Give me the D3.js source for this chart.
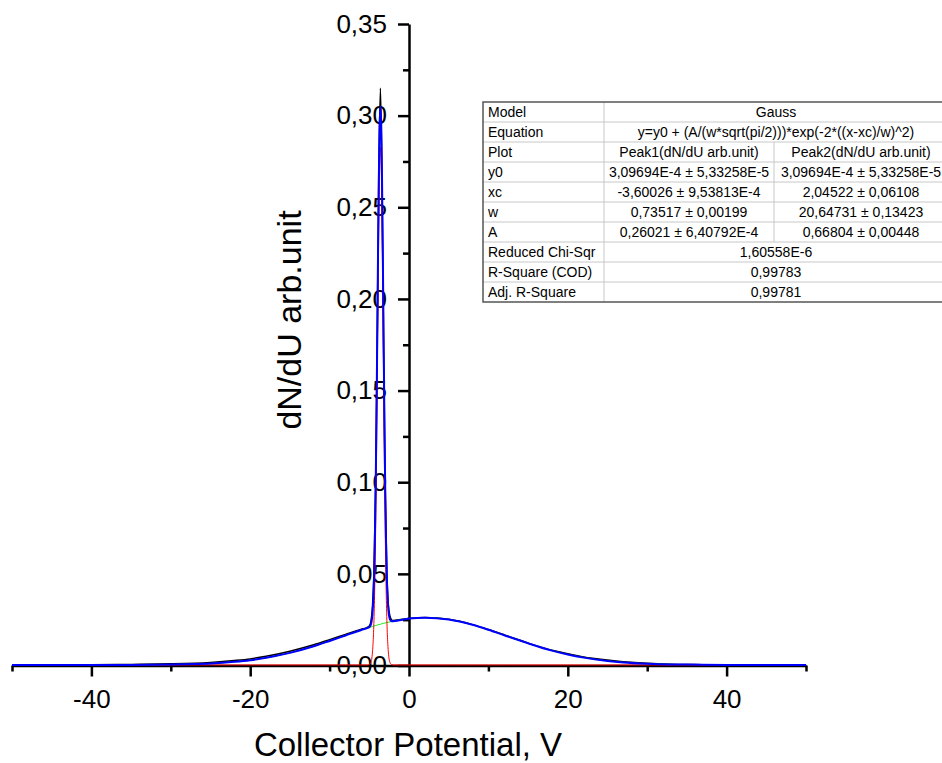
<!DOCTYPE html>
<html>
<head>
    <meta charset="utf-8">
    <title>Gauss fit</title>
    <script src="https://d3js.org/d3.v7.min.js"></script>
    <style>
        body { margin: 0; background: #fff; }
        text { font-family: Arial, "Liberation Sans", sans-serif; }
    </style>
</head>
<body>
<div id="chart"></div>
<script type="text/javascript">

    // measured data (black)
    let dataX = [-50, -45, -40, -35, -30, -25, -22, -20, -18, -15, -12, -10, -8, -6, -5.4, -5.2, -5.0, -4.8, -4.6, -4.4, -4.2, -4.0, -3.8, -3.6, -3.4, -3.2, -3.0, -2.8, -2.6, -2.4, -2.2, -2.0, 0, 2, 5, 8, 10, 12, 15, 18, 20, 22, 25, 27, 30, 33, 36, 40, 45, 50];
    let dataY = [0.0003, 0.0003, 0.0004, 0.0006, 0.0009, 0.0017, 0.0027, 0.0036, 0.0050, 0.0078, 0.0113, 0.0141, 0.0170, 0.0198, 0.0205, 0.0209, 0.0216, 0.0240, 0.0320, 0.0530, 0.1000, 0.1800, 0.2700, 0.3150, 0.2650, 0.1750, 0.0980, 0.0520, 0.0330, 0.0270, 0.0250, 0.0246, 0.0257, 0.0262, 0.0252, 0.0223, 0.0196, 0.0167, 0.0122, 0.0083, 0.0064, 0.0047, 0.0030, 0.0021, 0.0012, 0.0007, 0.0005, 0.0003, 0.0003, 0.0003];

    // fit curves (shared x grid)
    let fitX = [-50, -45, -40, -35, -30, -28, -25, -22, -20, -18, -17, -15, -12, -10, -8, -6, -5.2, -5.0, -4.8, -4.6, -4.4, -4.3, -4.2, -4.1, -4.0, -3.9, -3.8, -3.7, -3.6, -3.5, -3.4, -3.3, -3.2, -3.1, -3.0, -2.9, -2.8, -2.6, -2.4, -2.2, -2.0, 0, 2, 5, 8, 10, 12, 15, 18, 20, 22, 25, 27, 30, 33, 35, 40, 45, 50];
    let peak1Y = [0.0003, 0.0003, 0.0003, 0.0003, 0.0003, 0.0003, 0.0003, 0.0003, 0.0003, 0.0003, 0.0003, 0.0003, 0.0003, 0.0003, 0.0003, 0.0003, 0.0003, 0.0005, 0.0017, 0.0073, 0.0267, 0.0464, 0.0748, 0.1123, 0.1565, 0.2027, 0.2438, 0.2725, 0.2827, 0.2725, 0.2438, 0.2027, 0.1565, 0.1123, 0.0748, 0.0464, 0.0267, 0.0073, 0.0017, 0.0005, 0.0003, 0.0003, 0.0003, 0.0003, 0.0003, 0.0003, 0.0003, 0.0003, 0.0003, 0.0003, 0.0003, 0.0003, 0.0003, 0.0003, 0.0003, 0.0003, 0.0003, 0.0003, 0.0003];
    let peak2Y = [0.0003, 0.0003, 0.0003, 0.0003, 0.0005, 0.0007, 0.0011, 0.0020, 0.0029, 0.0042, 0.0050, 0.0069, 0.0105, 0.0134, 0.0164, 0.0194, 0.0205, 0.0208, 0.0210, 0.0213, 0.0216, 0.0217, 0.0218, 0.0219, 0.0221, 0.0222, 0.0223, 0.0224, 0.0225, 0.0227, 0.0228, 0.0229, 0.0230, 0.0231, 0.0232, 0.0233, 0.0234, 0.0236, 0.0238, 0.0240, 0.0242, 0.0256, 0.0261, 0.0251, 0.0222, 0.0195, 0.0165, 0.0121, 0.0081, 0.0060, 0.0043, 0.0025, 0.0017, 0.0010, 0.0006, 0.0005, 0.0003, 0.0003, 0.0003];
    let sumY = [0.0003, 0.0003, 0.0003, 0.0003, 0.0005, 0.0007, 0.0011, 0.0020, 0.0029, 0.0042, 0.0050, 0.0069, 0.0105, 0.0134, 0.0164, 0.0194, 0.0205, 0.0210, 0.0224, 0.0283, 0.0480, 0.0678, 0.0963, 0.1339, 0.1783, 0.2246, 0.2658, 0.2946, 0.3049, 0.2949, 0.2663, 0.2253, 0.1792, 0.1351, 0.0977, 0.0694, 0.0498, 0.0306, 0.0252, 0.0242, 0.0242, 0.0256, 0.0261, 0.0251, 0.0222, 0.0195, 0.0165, 0.0121, 0.0081, 0.0060, 0.0043, 0.0025, 0.0017, 0.0010, 0.0006, 0.0005, 0.0003, 0.0003, 0.0003];

    // ticks
    let xMajor = [-40, -20, 0, 20, 40];
    let xMajorLabels = ["-40", "-20", "0", "20", "40"];
    let xMinor = [-50, -30, -10, 10, 30, 50];
    let yMajor = [0, 0.05, 0.10, 0.15, 0.20, 0.25, 0.30, 0.35];
    let yMajorLabels = ["0,00", "0,05", "0,10", "0,15", "0,20", "0,25", "0,30", "0,35"];
    let yMinor = [0.025, 0.075, 0.125, 0.175, 0.225, 0.275, 0.325];

    // fit results table
    let tableRows = [
        ["Model", "Gauss"],
        ["Equation", "y=y0 + (A/(w*sqrt(pi/2)))*exp(-2*((x-xc)/w)^2)"],
        ["Plot", "Peak1(dN/dU arb.unit)", "Peak2(dN/dU arb.unit)"],
        ["y0", "3,09694E-4 ± 5,33258E-5", "3,09694E-4 ± 5,33258E-5"],
        ["xc", "-3,60026 ± 9,53813E-4", "2,04522 ± 0,06108"],
        ["w", "0,73517 ± 0,00199", "20,64731 ± 0,13423"],
        ["A", "0,26021 ± 6,40792E-4", "0,66804 ± 0,00448"],
        ["Reduced Chi-Sqr", "1,60558E-6"],
        ["R-Square (COD)", "0,99783"],
        ["Adj. R-Square", "0,99781"]
    ];

    let W = 942, H = 763;

    let svg = d3.select("#chart")
        .append("svg")
            .attr("width", W)
            .attr("height", H);

    let xScale = d3.scaleLinear().domain([-50, 50]).range([12, 806]);
    let yScale = d3.scaleLinear().domain([0, 0.35]).range([665.5, 24]);

    let x0 = xScale(0), y0 = yScale(0);

    // x axis (crosses at y = 0)
    let gx = svg.append("g")
        .attr("transform", "translate(0," + y0 + ")")
        .call(d3.axisBottom(xScale).tickValues(xMajor).tickSize(11).tickSizeOuter(0)
            .tickFormat(function(d, i) { return xMajorLabels[i]; }));
    gx.append("g")
        .call(d3.axisBottom(xScale).tickValues(xMinor).tickSize(6).tickSizeOuter(0).tickFormat(""))
        .select(".domain").remove();
    gx.selectAll("text")
        .attr("y", 24.5)
        .attr("font-size", "26px")
        .attr("fill", "#000");

    // y axis (crosses at x = 0)
    let gy = svg.append("g")
        .attr("transform", "translate(" + x0 + ",0)")
        .call(d3.axisLeft(yScale).tickValues(yMajor).tickSize(11).tickSizeOuter(0).tickPadding(11)
            .tickFormat(function(d, i) { return yMajorLabels[i]; }));
    gy.append("g")
        .call(d3.axisLeft(yScale).tickValues(yMinor).tickSize(6).tickSizeOuter(0).tickFormat(""))
        .select(".domain").remove();
    gy.selectAll("text")
        .attr("font-size", "26px")
        .attr("fill", "#000");

    svg.selectAll(".domain, .tick line")
        .attr("stroke", "#000")
        .attr("stroke-width", 2.5);

    // axis titles
    svg.append("text")
        .attr("x", 408)
        .attr("y", 756)
        .attr("text-anchor", "middle")
        .attr("font-size", "33px")
        .text("Collector Potential, V");

    svg.append("text")
        .attr("transform", "translate(301,320) rotate(-90)")
        .attr("text-anchor", "middle")
        .attr("font-size", "34px")
        .text("dN/dU arb.unit");

    // curves
    function drawCurve(xs, ys, color, width) {
        let line = d3.line()
            .x(function(d, i) { return xScale(xs[i]); })
            .y(function(d) { return yScale(d); })
            .curve(d3.curveMonotoneX);
        svg.append("path")
            .datum(ys)
            .attr("fill", "none")
            .attr("stroke", color)
            .attr("stroke-width", width)
            .attr("stroke-linejoin", "round")
            .attr("d", line);
    }

    drawCurve(dataX, dataY, "#000000", 1.5);
    drawCurve(fitX, peak2Y, "#00ee00", 1);
    drawCurve(fitX, peak1Y, "#ff0000", 1);
    drawCurve(fitX, sumY, "#0000ff", 2);

    // table
    let tx = 483, ty = 102, rowH = 20;
    let colX = [483, 604, 774, 948];
    let table = svg.append("g");

    table.append("rect")
        .attr("x", tx).attr("y", ty)
        .attr("width", colX[3] - tx).attr("height", rowH * tableRows.length)
        .attr("fill", "#fff");

    tableRows.forEach(function(row, r) {
        let yy = ty + r * rowH;
        if (r > 0) {
            table.append("line")
                .attr("x1", tx).attr("x2", colX[3])
                .attr("y1", yy).attr("y2", yy)
                .attr("stroke", "#c8c8c8");
        }
        table.append("line")
            .attr("x1", colX[1]).attr("x2", colX[1])
            .attr("y1", yy).attr("y2", yy + rowH)
            .attr("stroke", "#c8c8c8");
        if (row.length === 3) {
            table.append("line")
                .attr("x1", colX[2]).attr("x2", colX[2])
                .attr("y1", yy).attr("y2", yy + rowH)
                .attr("stroke", "#c8c8c8");
        }
        table.append("text")
            .attr("x", tx + 5).attr("y", yy + rowH / 2)
            .attr("dy", "0.35em")
            .attr("font-size", "14px")
            .text(row[0]);
        if (row.length === 3) {
            [1, 2].forEach(function(c) {
                table.append("text")
                    .attr("x", (colX[c] + colX[c + 1]) / 2).attr("y", yy + rowH / 2)
                    .attr("dy", "0.35em")
                    .attr("text-anchor", "middle")
                    .attr("font-size", "14px")
                    .text(row[c]);
            });
        } else {
            table.append("text")
                .attr("x", (colX[1] + colX[3]) / 2).attr("y", yy + rowH / 2)
                .attr("dy", "0.35em")
                .attr("text-anchor", "middle")
                .attr("font-size", "14px")
                .text(row[1]);
        }
    });

    table.append("rect")
        .attr("x", tx).attr("y", ty)
        .attr("width", colX[3] - tx).attr("height", rowH * tableRows.length)
        .attr("fill", "none")
        .attr("stroke", "#555")
        .attr("stroke-width", 1.5);

</script>
</body>
</html>
